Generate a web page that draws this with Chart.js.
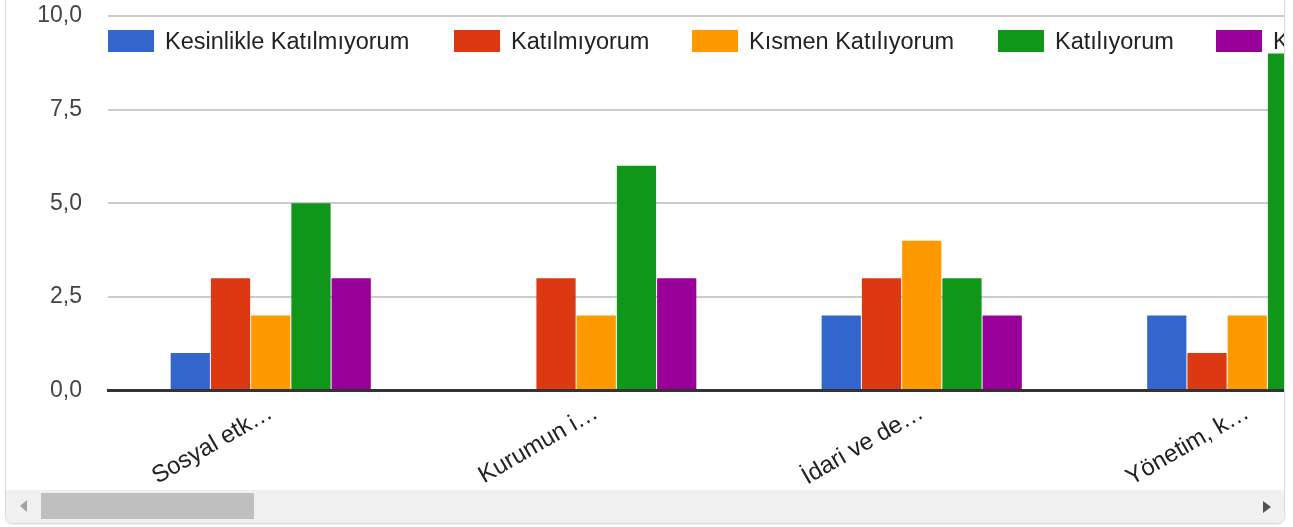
<!DOCTYPE html>
<html>
<head>
<meta charset="utf-8">
<script src="https://cdn.jsdelivr.net/npm/chart.js@4/dist/chart.umd.min.js"></script>
<style>
  html, body { margin: 0; padding: 0; background: #fff; width: 1293px; height: 527px; overflow: hidden; }
  body { position: relative; font-family: 'Liberation Sans', Arial, sans-serif; }
  #frame {
    position: absolute; left: 5px; top: -20px;
    width: 1278px; height: 542px;
    border: 1px solid #dadce0; border-radius: 8px;
    overflow: hidden; background: #fff;
    box-shadow: 0 1px 2px rgba(0,0,0,0.08);
  }
  #viewport {
    position: absolute; left: 0; top: 19px; width: 1278px; height: 490px;
    overflow: hidden;
  }
  #chart { position: absolute; left: 0; top: 0; }
  #legend { position: absolute; left: 0; top: 30px; width: 1278px; height: 22px; }
  .item { position: absolute; top: 0; display: flex; align-items: center; height: 22px; white-space: nowrap; }
  .box { width: 46px; height: 22px; flex: none; }
  .txt { margin-left: 11px; font-size: 23.5px; color: #222; line-height: 22px; }
  #scroll {
    position: absolute; left: 0; top: 509px; width: 1278px; height: 33px;
    background: #f0f0f0;
  }
  #thumb { position: absolute; left: 35px; top: 3px; width: 213px; height: 26px; background: #bfbfbf; }
  #arrL {
    position: absolute; left: 14px; top: 10px; width: 0; height: 0;
    border-top: 6.5px solid transparent; border-bottom: 6.5px solid transparent;
    border-right: 7px solid #a3a3a3;
  }
  #arrR {
    position: absolute; left: 1257px; top: 11px; width: 0; height: 0;
    border-top: 6.5px solid transparent; border-bottom: 6.5px solid transparent;
    border-left: 8px solid #505050;
  }
</style>
</head>
<body>
<div id="frame">
  <div id="viewport">
    <canvas id="chart" width="1404" height="490"></canvas>
    <div id="legend"></div>
  </div>
  <div id="scroll"><div id="arrL"></div><div id="thumb"></div><div id="arrR"></div></div>
</div>
<script>
// ---- data ----
const categories = ['Sosyal etk\u2026', 'Kurumun i\u2026', '\u0130dari ve de\u2026', 'Y\u00f6netim, k\u2026'];
const seriesNames = ['Kesinlikle Kat\u0131lm\u0131yorum', 'Kat\u0131lm\u0131yorum', 'K\u0131smen Kat\u0131l\u0131yorum', 'Kat\u0131l\u0131yorum', 'Kesinlikle Kat\u0131l\u0131yorum'];
const kesinlikleKatilmiyorum = [1, 0, 2, 2];
const katilmiyorum = [3, 3, 3, 1];
const kismenKatiliyorum = [2, 2, 4, 2];
const katiliyorum = [5, 6, 3, 9];
const kesinlikleKatiliyorum = [3, 3, 2, null];
const yTickValues = [0, 2.5, 5, 7.5, 10];
const yTickLabels = ['0,0', '2,5', '5,0', '7,5', '10,0'];

// ---- styles ----
const colors = ['#3366cc', '#dc3912', '#ff9900', '#109618', '#990099'];
const legendLeft = [102, 448, 686, 992, 1210];
const seriesValues = [kesinlikleKatilmiyorum, katilmiyorum, kismenKatiliyorum, katiliyorum, kesinlikleKatiliyorum];
const FONT = "'Liberation Sans', Arial, sans-serif";

const datasets = seriesNames.map((name, i) => ({
  label: name,
  data: seriesValues[i],
  backgroundColor: colors[i],
  borderWidth: 0,
  categoryPercentage: 0.618,
  barPercentage: 0.975
}));

new Chart(document.getElementById('chart'), {
  type: 'bar',
  data: { labels: categories, datasets },
  options: {
    responsive: false,
    animation: false,
    devicePixelRatio: 1,
    layout: { padding: { top: 16, left: 0, right: 0, bottom: 0 } },
    plugins: { legend: { display: false }, tooltip: { enabled: false } },
    scales: {
      x: {
        grid: { display: false },
        border: { display: true, color: '#333333', width: 3, z: 1 },
        ticks: {
          color: '#222', font: { family: FONT, size: 24 },
          minRotation: 30, maxRotation: 30, padding: 0, autoSkip: false
        },
        afterFit(scale) {
          scale.height = 99.5;
          scale.paddingLeft = 0; scale.paddingRight = 0;
        }
      },
      y: {
        min: 0, max: 10,
        afterBuildTicks(scale) { scale.ticks = yTickValues.map(v => ({ value: v })); },
        grid: { color: '#cccccc', lineWidth: 2, drawTicks: false },
        border: { display: false },
        ticks: {
          color: '#444', font: { family: FONT, size: 23 }, padding: 26,
          callback: (v) => yTickLabels[yTickValues.indexOf(v)]
        },
        afterFit(scale) {
          scale.width = 102;
          scale.paddingTop = 0; scale.paddingBottom = 0;
        }
      }
    }
  }
});

// HTML legend built from the series names and colours
const legend = document.getElementById('legend');
seriesNames.forEach((name, i) => {
  const item = document.createElement('div');
  item.className = 'item';
  item.style.left = legendLeft[i] + 'px';
  const box = document.createElement('span');
  box.className = 'box';
  box.style.background = colors[i];
  const txt = document.createElement('span');
  txt.className = 'txt';
  txt.textContent = name;
  item.appendChild(box); item.appendChild(txt);
  legend.appendChild(item);
});
</script>
</body>
</html>
